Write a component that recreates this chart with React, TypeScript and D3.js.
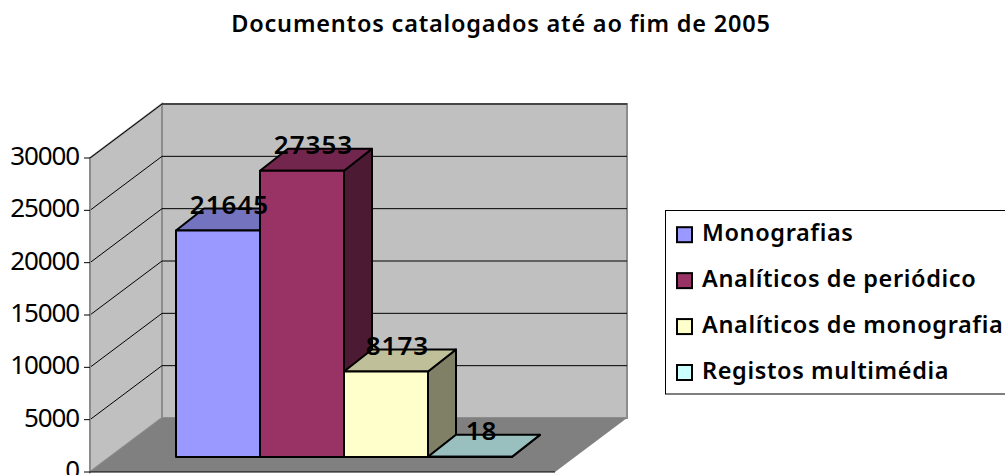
import React from "react";
import * as d3 from "d3";

const title = "Documentos catalogados até ao fim de 2005";
const categories = ["Monografias", "Analíticos de periódico", "Analíticos de monografia", "Registos multimédia"];
const values = [21645, 27353, 8173, 18];
const ticks = [0, 5000, 10000, 15000, 20000, 25000, 30000];
const fills = ["#9999FF", "#993366", "#FFFFCC", "#CCFFFF"];

const W = 1005, H = 475;
const font = "'Noto Sans', sans-serif";

const y = d3.scaleLinear().domain([0, 30000]).range([472, 158]);
const wallDx = 72, wallDy = -54;
const barBase = 457;
const barScale = d3.scaleLinear().domain([0, 30000]).range([barBase, barBase - 314]);
const xBand = d3.scaleBand<string>().domain(categories).range([176, 512]).padding(0);
const barDx = 28, barDy = -22;
const frontLeft = 90, frontRight = 555;
const legendY = d3.scalePoint<string>().domain(categories).range([234.7, 372.5]);

const shade = (c: string, k: number) => {
  const r = d3.rgb(c);
  return d3.rgb(r.r * k, r.g * k, r.b * k).formatHex();
};
const poly = (pts: [number, number][]) => (d3.line()(pts) as string) + "Z";

export default function App() {
  return (
    <svg width={W} height={H} style={{ position: "absolute", left: 0, top: 0, background: "#fff" }}>
      <text x={501} y={32} textAnchor="middle" fontFamily={font} fontWeight={600} fontSize={23.5} letterSpacing={0.8} fill="#000">{title}</text>

      <path d={poly([[frontLeft + wallDx, y(30000) + wallDy], [frontRight + wallDx, y(30000) + wallDy], [frontRight + wallDx, y(0) + wallDy], [frontLeft + wallDx, y(0) + wallDy]])} fill="#C0C0C0" stroke="#8c8c8c" strokeWidth={2} />
      <path d={poly([[frontLeft, y(30000)], [frontLeft + wallDx, y(30000) + wallDy], [frontLeft + wallDx, y(0) + wallDy], [frontLeft, y(0)]])} fill="#C0C0C0" stroke="#8c8c8c" strokeWidth={2} />
      <path d={poly([[frontLeft, y(0)], [frontRight, y(0)], [frontRight + wallDx, y(0) + wallDy], [frontLeft + wallDx, y(0) + wallDy]])} fill="#808080" />

      {ticks.filter((t) => t > 0).map((t) => (
        <path key={t} d={d3.line()([[frontLeft, y(t)], [frontLeft + wallDx, y(t) + wallDy], [frontRight + wallDx, y(t) + wallDy]]) as string} fill="none" stroke="#000" strokeWidth={1} />
      ))}
      <line x1={frontLeft} x2={frontLeft} y1={y(30000)} y2={y(0)} stroke="#8c8c8c" strokeWidth={2} />
      <line x1={frontLeft} x2={frontRight} y1={y(0)} y2={y(0)} stroke="#000" strokeWidth={1} />

      {ticks.map((t) => (
        <g key={t}>
          <line x1={frontLeft - 6} x2={frontLeft} y1={y(t)} y2={y(t)} stroke="#000" strokeWidth={1} />
          <text x={79} y={y(t) + 7} textAnchor="end" fontFamily={font} fontSize={26} letterSpacing={-1.1} fill="#000">{t}</text>
        </g>
      ))}

      {categories.map((c, i) => {
        const x0 = xBand(c)!;
        const x1 = x0 + xBand.bandwidth();
        const top = barScale(values[i]);
        return (
          <g key={c} stroke="#000" strokeWidth={2} strokeLinejoin="round">
            <path d={poly([[x1, barBase], [x1 + barDx, barBase + barDy], [x1 + barDx, top + barDy], [x1, top]])} fill={shade(fills[i], 0.5)} />
            <path d={poly([[x0, top], [x1, top], [x1 + barDx, top + barDy], [x0 + barDx, top + barDy]])} fill={shade(fills[i], 0.75)} />
            <path d={poly([[x0, barBase], [x1, barBase], [x1, top], [x0, top]])} fill={fills[i]} />
          </g>
        );
      })}
      {categories.map((c, i) => (
        <text key={c} x={xBand(c)! + xBand.bandwidth() / 2 + 11.5} y={barScale(values[i]) - 16.5} textAnchor="middle" fontFamily={font} fontWeight={600} fontSize={26} letterSpacing={1} fill="#000">{values[i]}</text>
      ))}

      <rect x={665.5} y={210.5} width={360} height={183.5} fill="#fff" stroke="#000" strokeWidth={1} />
      {categories.map((c, i) => (
        <g key={c}>
          <rect x={677} y={legendY(c)! - 7.5} width={15} height={15} fill={fills[i]} stroke="#000" strokeWidth={2} />
          <text x={702} y={legendY(c)! + 6.5} fontFamily={font} fontWeight={600} fontSize={23.5} letterSpacing={0.62} fill="#000">{c}</text>
        </g>
      ))}
    </svg>
  );
}
